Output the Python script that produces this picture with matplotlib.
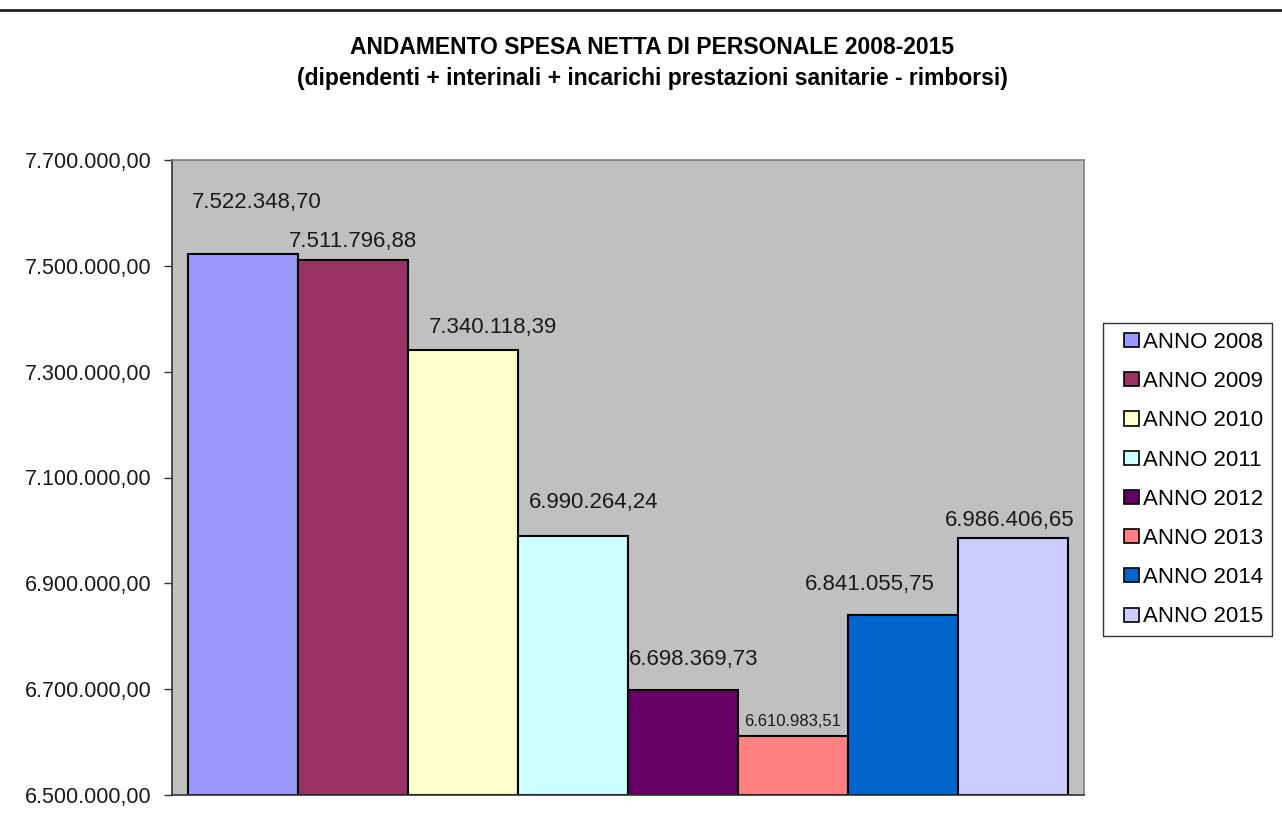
import matplotlib.pyplot as plt
from matplotlib.lines import Line2D
from matplotlib.patches import Rectangle
from matplotlib.container import BarContainer
from matplotlib.legend_handler import HandlerPatch, update_from_first_child

plt.rcParams['font.family'] = ['Liberation Sans', 'DejaVu Sans']

# data
anni = ["ANNO 2008", "ANNO 2009", "ANNO 2010", "ANNO 2011",
        "ANNO 2012", "ANNO 2013", "ANNO 2014", "ANNO 2015"]
spesa = [7522348.70, 7511796.88, 7340118.39, 6990264.24,
         6698369.73, 6610983.51, 6841055.75, 6986406.65]
colori = ["#9999FF", "#993366", "#FFFFCC", "#CCFFFF",
          "#660066", "#FF8080", "#0066CC", "#CCCCFF"]
y_ticks = [6500000, 6700000, 6900000, 7100000, 7300000, 7500000, 7700000]

# label offsets in pixels (dx, dy) from the bar top centre
label_off = [(14, 41), (0, 8), (30, 12), (21, 23), (11, 20), (0, 7), (-33, 20), (-3, 7)]
label_size = [16, 16, 16, 16, 16, 12, 16, 16]


def it_fmt(v):
    s = f"{v:,.2f}"
    return s.replace(",", "X").replace(".", ",").replace("X", ".")


def square(legend, orig_handle, xdescent, ydescent, width, height, fontsize):
    s = height
    return Rectangle((-xdescent + width - s, -ydescent), s, s)


fig = plt.figure(figsize=(12.82, 8.25), dpi=100)
ax = fig.add_axes([172 / 1282, 1 - 795 / 825, (1084 - 172) / 1282, (795 - 160) / 825])
ax.set_facecolor("#C0C0C0")

x = list(range(len(spesa)))
for i in x:
    ax.bar(i, spesa[i] - y_ticks[0], bottom=y_ticks[0], width=1.0,
           color=colori[i], edgecolor="black", linewidth=1.5, label=anni[i])

for i in x:
    ax.annotate(it_fmt(spesa[i]), (i, spesa[i]), xytext=label_off[i],
                textcoords="offset pixels", ha="center", va="bottom",
                fontsize=label_size[i], color="#1a1a1a")

pad = 16 / 110
ax.set_xlim(-0.5 - pad, len(spesa) - 0.5 + pad)
ax.set_ylim(y_ticks[0], y_ticks[-1])
ax.set_yticks(y_ticks)
ax.set_yticklabels([it_fmt(v) for v in y_ticks], fontsize=15.5, color="#1a1a1a")
ax.set_xticks([])
ax.tick_params(axis="y", length=6, width=1, color="#333333", pad=9)

ax.spines["left"].set_color("#333333")
ax.spines["bottom"].set_color("#333333")
ax.spines["top"].set_color("#808080")
ax.spines["right"].set_color("#808080")
for s in ax.spines.values():
    s.set_linewidth(1.2)

fig.text(652 / 1282, 1 - 48 / 825, "ANDAMENTO SPESA NETTA DI PERSONALE 2008-2015",
         ha="center", va="center", fontsize=16.5, fontweight="bold")
fig.text(652 / 1282, 1 - 78 / 825,
         "(dipendenti + interinali + incarichi prestazioni sanitarie - rimborsi)",
         ha="center", va="center", fontsize=16.5, fontweight="bold")

fig.add_artist(Line2D([0, 1], [1 - 10 / 825, 1 - 10 / 825], color="#222222", linewidth=2))

leg = fig.legend(loc="upper left", bbox_to_anchor=(1103 / 1282, 1 - 323 / 825),
                 fontsize=16, frameon=True, fancybox=False, borderaxespad=0,
                 handlelength=1.2, handleheight=0.6, handletextpad=0.2,
                 labelspacing=0.82, borderpad=0.4,
                 handler_map={BarContainer: HandlerPatch(patch_func=square,
                                                         update_func=update_from_first_child)})
leg.get_frame().set_edgecolor("black")
leg.get_frame().set_linewidth(1)
for h in leg.legend_handles:
    h.set_linewidth(1.2)

fig.savefig("out.png", dpi=100)
